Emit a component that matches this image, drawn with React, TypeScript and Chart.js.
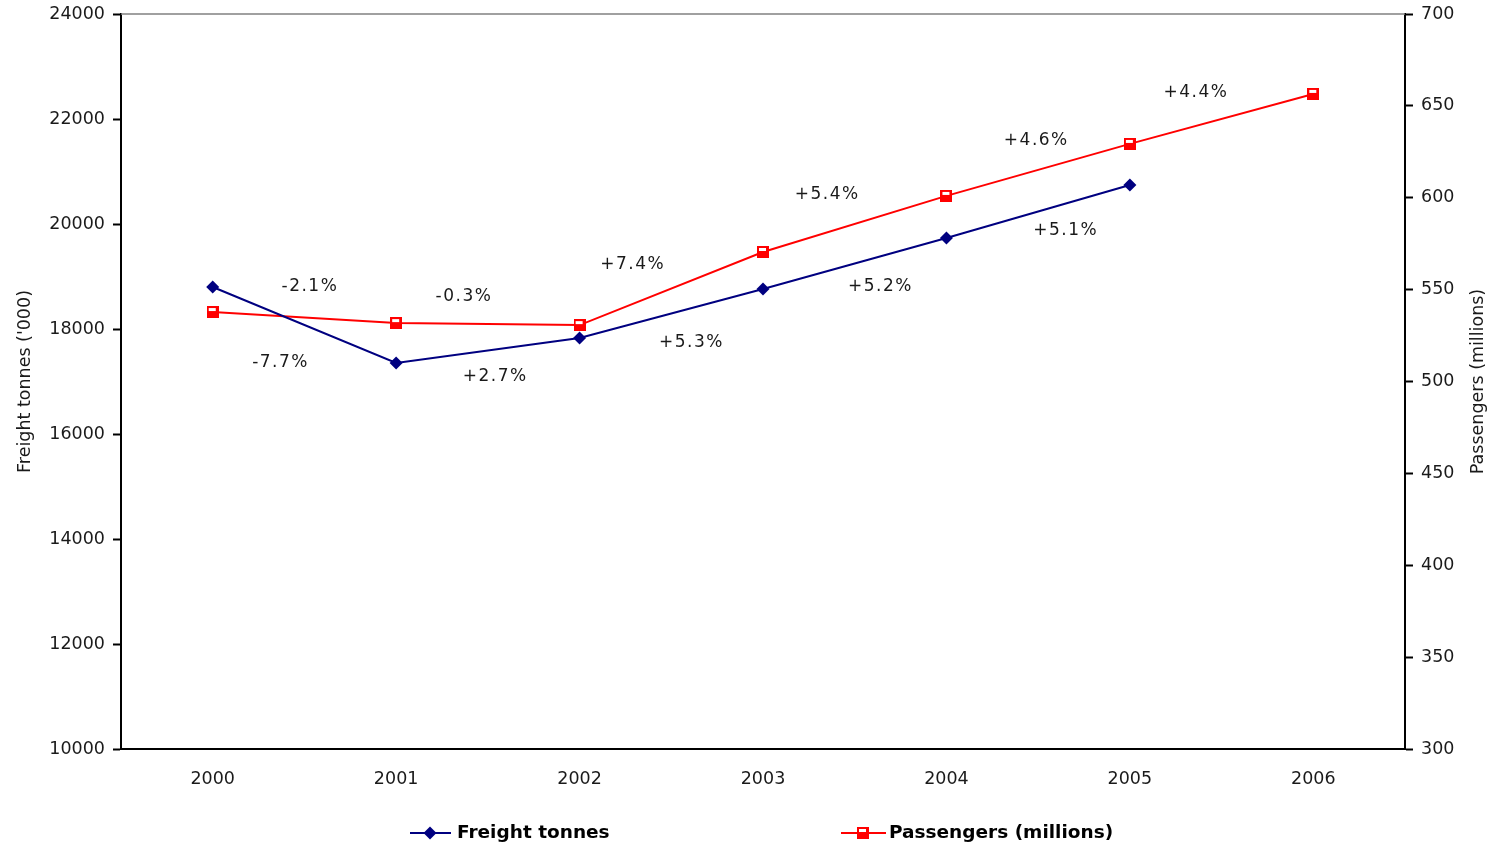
import React, { useEffect, useRef } from 'react';
import { Chart, registerables } from 'chart.js';
Chart.register(...registerables);

const years = ['2000', '2001', '2002', '2003', '2004', '2005', '2006'];
const freightTonnes = [18800, 17352, 17829, 18762, 19733, 20743, null];
const passengersMillions = [537.8, 531.8, 530.7, 570.5, 601, 629.3, 656.5];

const changeLabels = ['-2.1%', '-7.7%', '-0.3%', '+2.7%', '+7.4%', '+5.3%', '+5.4%', '+5.2%', '+4.6%', '+5.1%', '+4.4%'];
// position of each label: fractional category index, value on the freight axis
const changeLabelX = [0.53, 0.37, 1.37, 1.54, 2.29, 2.61, 3.35, 3.64, 4.49, 4.65, 5.36];
const changeLabelY = [18800, 17352, 18610, 17086, 19219, 17733, 20552, 18800, 21581, 19867, 22495];

const leftTitle = "Freight tonnes ('000)";
const rightTitle = 'Passengers (millions)';
const seriesNames = ['Freight tonnes', 'Passengers (millions)'];

const NAVY = '#000080';
const RED = '#ff0000';
const FONT = '"DejaVu Sans", Verdana, sans-serif';

function makeSquareMarker(): HTMLCanvasElement {
  const c = document.createElement('canvas');
  c.width = 12;
  c.height = 12;
  const g = c.getContext('2d')!;
  g.fillStyle = RED;
  g.fillRect(0, 0, 12, 12);
  g.fillStyle = '#ffffff';
  g.fillRect(2, 2, 7, 3);
  return c;
}

function drawDiamond(ctx: CanvasRenderingContext2D, x: number, y: number, r: number) {
  ctx.beginPath();
  ctx.moveTo(x, y - r);
  ctx.lineTo(x + r, y);
  ctx.lineTo(x, y + r);
  ctx.lineTo(x - r, y);
  ctx.closePath();
  ctx.fill();
}

const plainTick = (v: any) => String(v);

export default function App() {
  const ref = useRef<HTMLCanvasElement | null>(null);

  useEffect(() => {
    document.body.style.margin = '0';
    const canvas = ref.current!;
    const square = makeSquareMarker();

    const overlay = {
      id: 'overlay',
      afterDraw(chart: any) {
        const { ctx, chartArea: ca, scales } = chart;
        ctx.save();
        // top border
        ctx.strokeStyle = '#808080';
        ctx.lineWidth = 1.5;
        ctx.beginPath();
        ctx.moveTo(ca.left, ca.top);
        ctx.lineTo(ca.right, ca.top);
        ctx.stroke();

        // change labels
        ctx.fillStyle = '#1a1a1a';
        ctx.font = '17px ' + FONT;
        ctx.textAlign = 'center';
        ctx.textBaseline = 'middle';
        (ctx as any).letterSpacing = '1.5px';
        for (let i = 0; i < changeLabels.length; i++) {
          const x = scales.x.getPixelForValue(changeLabelX[i]);
          const y = scales.y.getPixelForValue(changeLabelY[i]);
          ctx.fillText(changeLabels[i], x, y);
        }
        (ctx as any).letterSpacing = '0px';

        // axis titles
        const midY = (ca.top + ca.bottom) / 2;
        ctx.font = '17.5px ' + FONT;
        ctx.fillStyle = '#1a1a1a';
        ctx.save();
        ctx.translate(25, midY);
        ctx.rotate(-Math.PI / 2);
        ctx.fillText(leftTitle, 0, 0);
        ctx.restore();
        ctx.save();
        ctx.translate(chart.width - 22, midY);
        ctx.rotate(-Math.PI / 2);
        ctx.fillText(rightTitle, 0, 0);
        ctx.restore();

        // legend
        const ly = 833;
        ctx.font = 'bold 18.5px ' + FONT;
        ctx.textAlign = 'left';
        ctx.lineWidth = 2;
        ctx.strokeStyle = NAVY;
        ctx.beginPath();
        ctx.moveTo(410, ly);
        ctx.lineTo(451, ly);
        ctx.stroke();
        ctx.fillStyle = NAVY;
        drawDiamond(ctx, 430, ly, 6.5);
        ctx.fillStyle = '#000000';
        ctx.fillText(seriesNames[0], 457, ly);
        ctx.strokeStyle = RED;
        ctx.beginPath();
        ctx.moveTo(841, ly);
        ctx.lineTo(886, ly);
        ctx.stroke();
        ctx.drawImage(square, 863 - 6, ly - 6);
        ctx.fillStyle = '#000000';
        ctx.fillText(seriesNames[1], 889, ly);
        ctx.restore();
      },
    };

    const fitY = (w: number) => (s: any) => {
      s.width = w;
      s.paddingTop = 0;
      s.paddingBottom = 0;
    };

    const chart = new Chart(canvas, {
      type: 'line',
      data: {
        labels: years,
        datasets: [
          {
            label: seriesNames[0],
            data: freightTonnes,
            yAxisID: 'y',
            borderColor: NAVY,
            backgroundColor: NAVY,
            borderWidth: 2,
            pointStyle: 'rectRot',
            pointRadius: 6.5,
            pointBorderWidth: 0,
            tension: 0,
          },
          {
            label: seriesNames[1],
            data: passengersMillions,
            yAxisID: 'y1',
            borderColor: RED,
            backgroundColor: RED,
            borderWidth: 2,
            pointStyle: square,
            tension: 0,
          },
        ],
      },
      options: {
        animation: false,
        responsive: false,
        maintainAspectRatio: false,
        layout: { padding: { top: 14, left: 0, right: 0, bottom: 0 } },
        plugins: { legend: { display: false }, tooltip: { enabled: false } },
        scales: {
          x: {
            offset: true,
            grid: { display: true, drawOnChartArea: false, drawTicks: false },
            border: { display: true, color: '#000000', width: 2 },
            ticks: { color: '#1a1a1a', font: { family: FONT, size: 17.5 }, padding: 20, maxRotation: 0 },
            afterFit: (s: any) => { s.height = 97; s.paddingLeft = 0; s.paddingRight = 0; },
          },
          y: {
            position: 'left',
            min: 10000,
            max: 24000,
            ticks: { stepSize: 2000, color: '#1a1a1a', font: { family: FONT, size: 17.5 }, padding: 8, callback: plainTick },
            grid: { drawOnChartArea: false, drawTicks: true, tickLength: 8, tickColor: '#000000', tickWidth: 2 },
            border: { display: true, color: '#000000', width: 2 },
            afterFit: fitY(121),
          },
          y1: {
            position: 'right',
            min: 300,
            max: 700,
            ticks: { stepSize: 50, color: '#1a1a1a', font: { family: FONT, size: 17.5 }, padding: 8, callback: plainTick },
            grid: { drawOnChartArea: false, drawTicks: true, tickLength: 8, tickColor: '#000000', tickWidth: 2 },
            border: { display: true, color: '#000000', width: 2 },
            afterFit: fitY(95),
          },
        },
      },
      plugins: [overlay],
    });
    return () => chart.destroy();
  }, []);

  return (
    <div style={{ width: 1500, height: 846 }}>
      <canvas ref={ref} width={1500} height={846} style={{ display: 'block' }} />
    </div>
  );
}
